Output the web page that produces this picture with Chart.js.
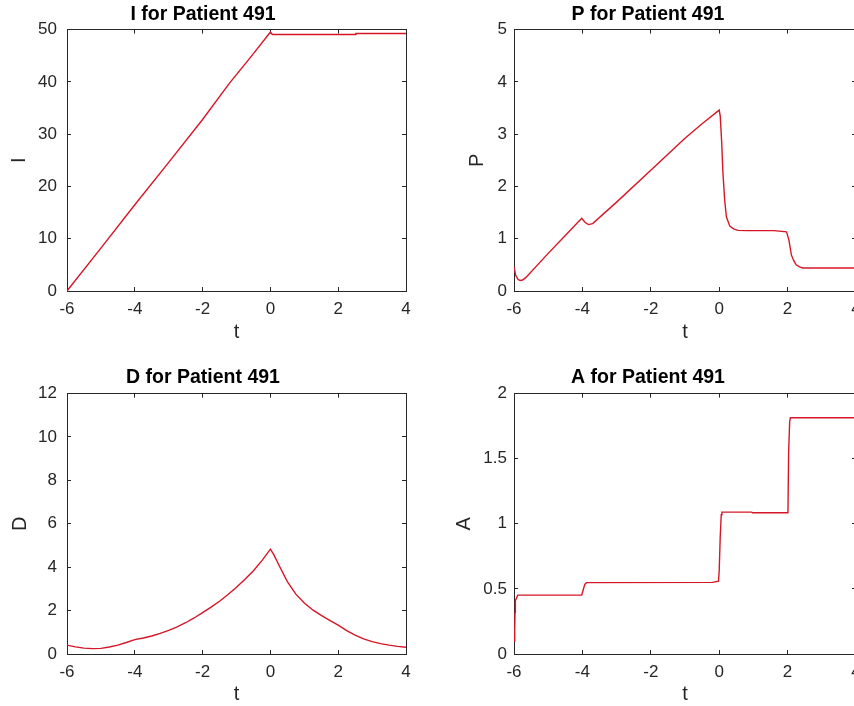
<!DOCTYPE html>
<html>
<head>
<meta charset="utf-8">
<script src="https://cdn.jsdelivr.net/npm/chart.js@4.4.1/dist/chart.umd.min.js"></script>
<style>
  html, body { margin: 0; padding: 0; background: #fff; overflow: hidden; width: 854px; height: 706px; }
  canvas { position: absolute; }
</style>
</head>
<body>
<canvas id="chartI" width="427" height="350" style="left:0px;top:0px"></canvas>
<canvas id="chartP" width="440" height="350" style="left:440px;top:0px"></canvas>
<canvas id="chartD" width="427" height="356" style="left:0px;top:350px"></canvas>
<canvas id="chartA" width="440" height="356" style="left:440px;top:350px"></canvas>
<script>
// Valores (tempo t e a variável de cada painel)
const timeTicks = [-6, -4, -2, 0, 2, 4];

const iTime = [-6, -5, -4, -3, -2, -1.2, -0.6, -0.05, 0, 0.06, 2.5, 2.52, 4];
const iValues = [0, 8.2, 16.5, 24.6, 32.8, 39.8, 44.6, 49.1, 49.5, 49.05, 49.05, 49.25, 49.25];

const pTime = [-6, -5.95, -5.88, -5.82, -5.75, -5.65, -5, -4.5, -4.02, -3.92, -3.82, -3.7, -3, -2, -1, -0.5, 0,
  0.03, 0.07, 0.11, 0.16, 0.21, 0.31, 0.42, 0.55, 0.8, 1.6, 1.97, 2.04, 2.11, 2.18, 2.25, 2.35, 2.45, 4];
const pValues = [0.46, 0.3, 0.22, 0.2, 0.21, 0.26, 0.72, 1.06, 1.39, 1.31, 1.27, 1.29, 1.70, 2.31, 2.92, 3.2, 3.46,
  3.35, 2.88, 2.25, 1.74, 1.42, 1.24, 1.19, 1.16, 1.155, 1.155, 1.13, 0.97, 0.69, 0.58, 0.5, 0.46, 0.44, 0.44];

const dTime = [-6, -5.75, -5.5, -5.25, -5, -4.75, -4.5, -4.25, -4, -3.75, -3.5, -3.25, -3, -2.75, -2.5, -2.25,
  -2, -1.75, -1.5, -1.25, -1, -0.75, -0.5, -0.25, 0, 0.1, 0.25, 0.5, 0.75, 1, 1.25, 1.5, 1.75, 2, 2.25, 2.5,
  2.75, 3, 3.25, 3.5, 3.75, 4];
const dValues = [0.41, 0.33, 0.27, 0.25, 0.26, 0.32, 0.41, 0.53, 0.66, 0.74, 0.83, 0.95, 1.09, 1.25, 1.44, 1.66,
  1.91, 2.16, 2.43, 2.74, 3.08, 3.45, 3.84, 4.3, 4.83, 4.58, 4.1, 3.34, 2.76, 2.35, 2.03, 1.78, 1.55, 1.33, 1.08, 0.87,
  0.7, 0.57, 0.48, 0.41, 0.35, 0.31];

const aTime = [-6, -5.98, -5.97, -5.96, -5.89, -4.02, -3.98, -3.93, -3.88, -0.2, -0.02, 0, 0.03, 0.06, 0.08,
  0.95, 0.97, 2.01, 2.03, 2.06, 2.08, 4];
const aValues = [0.1, 0.18, 0.32, 0.41, 0.452, 0.452, 0.49, 0.535, 0.548, 0.55, 0.56, 0.64, 0.9, 1.07, 1.09,
  1.09, 1.085, 1.085, 1.55, 1.78, 1.815, 1.815];

const LINE_COLOR = "rgb(214, 22, 38)";
const AXIS_COLOR = "#262626";
const FONT = "'Liberation Sans', Arial, Helvetica, sans-serif";

// Eixo "caixa" (topo / direita) só com marcas de tick para dentro
function boxAxis(position, min, max, step) {
  return {
    type: "linear",
    position: position,
    min: min,
    max: max,
    ticks: { display: false, stepSize: step },
    grid: { drawOnChartArea: false, tickLength: -4, color: AXIS_COLOR },
    border: { color: AXIS_COLOR, width: 1 },
    afterFit: (scale) => {
      if (position === "top") scale.height = 0;
      else scale.width = 0;
    },
  };
}

function buildChart(canvasId, panel) {
  const ctx = document.getElementById(canvasId);
  if (!ctx) {
    console.error('Canvas "' + canvasId + '" não encontrado.');
    return;
  }
  const points = panel.time.map((t, i) => ({ x: t, y: panel.values[i] }));

  new Chart(ctx.getContext("2d"), {
    type: "line",
    data: {
      datasets: [
        {
          data: points,
          borderColor: LINE_COLOR,
          borderWidth: 1.4,
          pointRadius: 0,
          tension: 0,
          fill: false,
        },
      ],
    },
    options: {
      responsive: false,
      animation: false,
      events: [],
      layout: { padding: { left: 0, right: panel.padRight, top: 0, bottom: 0 } },
      plugins: {
        legend: { display: false },
        tooltip: { enabled: false },
        title: {
          display: true,
          text: panel.title,
          color: "#000",
          font: { family: FONT, size: 19.5, weight: "bold" },
          padding: { top: panel.titleTop, bottom: panel.titleBottom },
        },
      },
      scales: {
        x: {
          type: "linear",
          position: "bottom",
          min: timeTicks[0],
          max: timeTicks[timeTicks.length - 1],
          ticks: {
            stepSize: 2,
            maxRotation: 0,
            autoSkip: false,
            padding: 12,
            color: AXIS_COLOR,
            font: { family: FONT, size: 17 },
            callback: (v) => String(v),
          },
          grid: { drawOnChartArea: false, tickLength: -4, color: AXIS_COLOR },
          border: { color: AXIS_COLOR, width: 1 },
          title: {
            display: true,
            text: "t",
            color: AXIS_COLOR,
            font: { family: FONT, size: 20 },
            padding: { top: 0, bottom: panel.xTitleBottom },
          },
          afterFit: (scale) => { scale.height = panel.xHeight; },
        },
        y: {
          type: "linear",
          position: "left",
          min: panel.yTicks[0],
          max: panel.yTicks[panel.yTicks.length - 1],
          ticks: {
            stepSize: panel.yTicks[1] - panel.yTicks[0],
            autoSkip: false,
            padding: panel.yTickPad,
            color: AXIS_COLOR,
            font: { family: FONT, size: 17 },
            callback: (v) => String(v),
          },
          grid: { drawOnChartArea: false, tickLength: -4, color: AXIS_COLOR },
          border: { color: AXIS_COLOR, width: 1 },
          title: {
            display: true,
            text: panel.yLabel,
            color: AXIS_COLOR,
            font: { family: FONT, size: 20 },
            padding: { top: panel.yTitleTop, bottom: 0 },
          },
          afterFit: (scale) => { scale.width = panel.yWidth; },
        },
        x2: boxAxis("top", timeTicks[0], timeTicks[timeTicks.length - 1], 2),
        y2: boxAxis("right", panel.yTicks[0], panel.yTicks[panel.yTicks.length - 1], panel.yTicks[1] - panel.yTicks[0]),
      },
    },
  });
}

function initializeCharts() {
  buildChart("chartI", {
    title: "I for Patient 491", yLabel: "I", time: iTime, values: iValues,
    yTicks: [0, 10, 20, 30, 40, 50],
    yWidth: 67, padRight: 21, xHeight: 59, titleTop: 3, titleBottom: 3.2,
    xTitleBottom: 6, yTitleTop: 7.5, yTickPad: 14,
  });
  buildChart("chartP", {
    title: "P for Patient 491", yLabel: "P", time: pTime, values: pValues,
    yTicks: [0, 1, 2, 3, 4, 5],
    yWidth: 74, padRight: 24, xHeight: 59, titleTop: 3, titleBottom: 3.2,
    xTitleBottom: 6, yTitleTop: 25.5, yTickPad: 11,
  });
  buildChart("chartD", {
    title: "D for Patient 491", yLabel: "D", time: dTime, values: dValues,
    yTicks: [0, 2, 4, 6, 8, 10, 12],
    yWidth: 67, padRight: 21, xHeight: 52, titleTop: 15.6, titleBottom: 4.6,
    xTitleBottom: 0, yTitleTop: 8, yTickPad: 14,
  });
  buildChart("chartA", {
    title: "A for Patient 491", yLabel: "A", time: aTime, values: aValues,
    yTicks: [0, 0.5, 1, 1.5, 2],
    yWidth: 74, padRight: 24, xHeight: 52, titleTop: 15.6, titleBottom: 4.6,
    xTitleBottom: 0, yTitleTop: 12.5, yTickPad: 11,
  });
}

document.addEventListener("DOMContentLoaded", initializeCharts);
</script>
</body>
</html>
